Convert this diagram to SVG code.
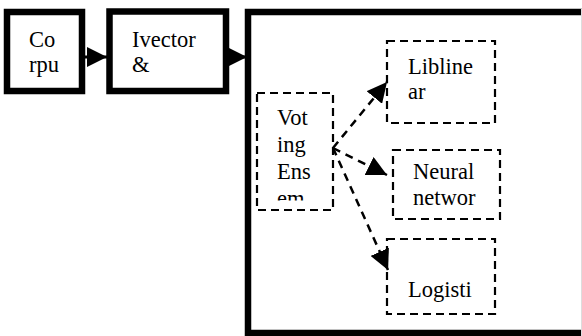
<svg xmlns="http://www.w3.org/2000/svg" width="582" height="336" viewBox="0 0 582 336">
<style>
.solid{fill:#fff;stroke:#000;stroke-width:6.5}
.dash{fill:#fff;stroke:#000;stroke-width:2.2;stroke-dasharray:8 5}
.t{font-family:"Liberation Serif","Times New Roman",serif;font-size:22.5px;fill:#000}
.conn{fill:none;stroke:#000}
.dconn{stroke-width:2.5;stroke-dasharray:8 6}
</style>
<defs>
<marker id="ah" markerUnits="userSpaceOnUse" markerWidth="20" markerHeight="20" refX="20" refY="10" orient="auto" viewBox="0 0 20 20">
<path d="M0,0 L20,10 L0,20 z" fill="#000"/>
</marker>
<clipPath id="cv"><rect x="259" y="95" width="72" height="105.5"/></clipPath>
</defs>
<rect width="582" height="336" fill="#fff"/>
<g id="corpus">
<rect class="solid" x="7" y="12" width="75" height="79"/>
<text class="t" x="29" y="47">Co</text>
<text class="t" x="29" y="72">rpu</text>
</g>
<g id="ivector">
<rect class="solid" x="109.5" y="11.5" width="116.5" height="79.5"/>
<text class="t" x="132" y="47">Ivector</text>
<text class="t" x="132" y="72">&amp;</text>
</g>
<g id="container">
<rect class="solid" x="248" y="12" width="345" height="321"/>
<line x1="581.5" y1="9" x2="581.5" y2="336" stroke="#ddd" stroke-width="1"/>
</g>
<g id="voting">
<rect class="dash" x="257" y="93" width="76" height="117"/>
<g clip-path="url(#cv)">
<text class="t" x="277" y="125">Vot</text>
<text class="t" x="277" y="152">ing</text>
<text class="t" x="277" y="179">Ens</text>
<text class="t" x="277" y="206">em</text>
</g>
</g>
<g id="libline">
<rect class="dash" x="387" y="41" width="108" height="82"/>
<text class="t" x="408" y="74">Libline</text>
<text class="t" x="408" y="99">ar</text>
</g>
<g id="neural">
<rect class="dash" x="393" y="150" width="107" height="69"/>
<text class="t" x="413" y="179">Neural</text>
<text class="t" x="413" y="205">networ</text>
</g>
<g id="logistic">
<rect class="dash" x="387" y="239" width="108" height="75"/>
<text class="t" x="408" y="297">Logisti</text>
</g>
<g id="connectors">
<line class="conn" x1="84" y1="57" x2="107" y2="57" stroke-width="3" marker-end="url(#ah)"/>
<line class="conn" x1="228" y1="57" x2="247" y2="57" stroke-width="3" marker-end="url(#ah)"/>
<line class="conn dconn" x1="333" y1="148" x2="387" y2="82" marker-end="url(#ah)"/>
<line class="conn dconn" x1="333" y1="148" x2="387" y2="175" marker-end="url(#ah)"/>
<line class="conn dconn" x1="333" y1="148" x2="388" y2="270" marker-end="url(#ah)"/>
</g>
</svg>
